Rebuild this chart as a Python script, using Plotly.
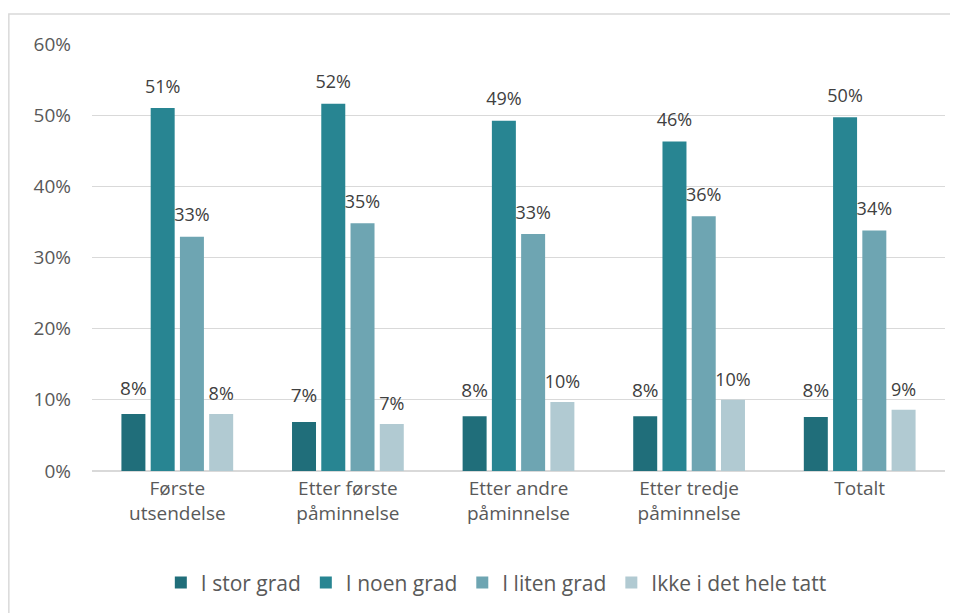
import plotly.graph_objects as go

categories = ["Første<br>utsendelse", "Etter første<br>påminnelse", "Etter andre<br>påminnelse",
              "Etter tredje<br>påminnelse", "Totalt"]
series_names = ["I stor grad", "I noen grad", "I liten grad", "Ikke i det hele tatt"]
i_stor_grad = [0.080, 0.069, 0.077, 0.077, 0.076]
i_noen_grad = [0.510, 0.516, 0.492, 0.463, 0.497]
i_liten_grad = [0.329, 0.348, 0.333, 0.358, 0.338]
ikke_i_det_hele_tatt = [0.080, 0.066, 0.097, 0.100, 0.086]
y_ticks = [0, 0.1, 0.2, 0.3, 0.4, 0.5, 0.6]

colors = ["#206E7A", "#288592", "#6EA5B2", "#B1CAD2"]
values = [i_stor_grad, i_noen_grad, i_liten_grad, ikke_i_det_hele_tatt]
label_sizes = [19, 18, 18, 18]
label_pad = [22, 16, 16, 14]

fig = go.Figure()
for i, (name, vals, col) in enumerate(zip(series_names, values, colors)):
    fig.add_trace(go.Bar(
        x=categories, y=vals, name=name, offsetgroup=str(i),
        marker=dict(color=col, line=dict(width=0)),
    ))
for i, (name, vals, fs, pad) in enumerate(zip(series_names, values, label_sizes, label_pad)):
    fig.add_trace(go.Scatter(
        x=categories, y=vals, offsetgroup=str(i), mode="markers+text", showlegend=False,
        marker=dict(size=pad, opacity=0), hoverinfo="skip", cliponaxis=False,
        text=[f"{round(v * 100)}%" for v in vals], textposition="top center",
        textfont=dict(size=fs, color="#404040", family="Open Sans"),
    ))

fig.update_layout(
    width=958, height=613,
    margin=dict(l=84, r=21, t=36, b=150),
    paper_bgcolor="white", plot_bgcolor="white",
    barmode="group", bargap=0.314, bargroupgap=0.18,
    scattermode="group", scattergap=0.314,
    font=dict(family="Open Sans", color="#595959", size=19),
    showlegend=True,
    legend=dict(orientation="h", x=0.474, xanchor="center", y=-0.262, yanchor="middle",
                font=dict(size=21, color="#595959"), traceorder="normal"),
    yaxis=dict(range=[0, 0.6], tickvals=y_ticks, tickformat=".0%", showgrid=True,
               gridcolor="#d9d9d9", gridwidth=1, zeroline=True, zerolinecolor="#d9d9d9",
               ticks="", ticklabelstandoff=20, tickfont=dict(size=19, color="#595959")),
    xaxis=dict(showgrid=False, ticks="", tickfont=dict(size=19, color="#595959"),
               showline=True, linecolor="#d9d9d9"),
    shapes=[dict(type="rect", xref="paper", yref="paper", x0=-0.0975, x1=1.2, y0=-0.6, y1=1.0703,
                 line=dict(color="#d9d9d9", width=1.5), fillcolor="rgba(0,0,0,0)", layer="below")],
)

fig.write_html("out.html")
